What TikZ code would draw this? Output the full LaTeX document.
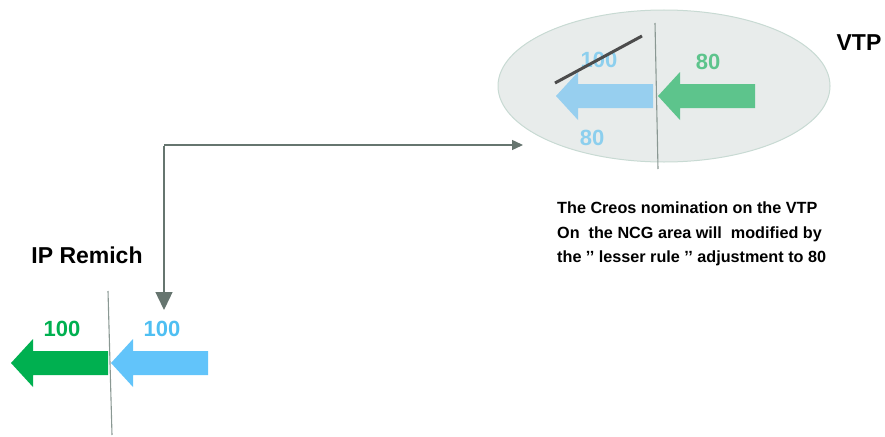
\documentclass[tikz,border=0pt]{standalone}
\usepackage{fontspec}
\setmainfont{Liberation Sans}
\usetikzlibrary{arrows.meta}
\definecolor{ellfill}{HTML}{E8ECEB}
\definecolor{elldraw}{HTML}{C8DAD3}
\definecolor{sepline}{HTML}{8A9893}
\definecolor{paleblue}{HTML}{97CFEF}
\definecolor{palegreen}{HTML}{5DC48C}
\definecolor{txtblue}{HTML}{8CCFEE}
\definecolor{ipgreen}{HTML}{00B050}
\definecolor{ipblue}{HTML}{62C4FA}
\definecolor{ipbluetxt}{HTML}{4FBFF2}
\definecolor{conn}{HTML}{66756F}
\begin{document}
\begin{tikzpicture}[x=1pt,y=-1pt,
  num/.style={font=\bfseries\fontsize{22}{24}\selectfont, inner sep=0pt},
  title/.style={font=\bfseries\fontsize{23}{25}\selectfont, inner sep=0pt, text=black},
  sep/.style={draw=sepline, line width=1.1pt},
  fatarrow/.pic={\path[pic actions] (0,0) -- (22,-24) -- (22,-12) -- (97,-12) -- (97,12) -- (22,12) -- (22,24) -- cycle;},
  conline/.style={draw=conn, line width=1.4pt}
]
\useasboundingbox (0,0) rectangle (885,436);

% VTP ellipse
\draw[fill=ellfill, draw=elldraw, line width=1pt] (664,86) ellipse [x radius=166, y radius=76];
\draw[sep] (655,23) -- (658,169);
\pic[fill=paleblue] at (556,96) {fatarrow};
\pic[fill=palegreen] at (658,96) {fatarrow};
\node[num, text=txtblue] (n100) at (599,60) {100};
\node[num, text=palegreen] (n80g) at (708,62) {80};
\node[num, text=txtblue] (n80b) at (592,138) {80};
\draw[line width=3pt, color=black!70] (555,83) -- (642,36);
\node[title] (vtp) at (859,43) {VTP};

% IP Remich
\node[title] (ip) at (87,255) {IP Remich};
\draw[sep] (108,291) -- (112,435);
\pic[fill=ipgreen] at (11,363) {fatarrow};
\pic[fill=ipblue] at (111,363) {fatarrow};
\node[num, text=ipgreen] (g100) at (62,329) {100};
\node[num, text=ipbluetxt] (b100) at (162,329) {100};

% connector
\coordinate (cC) at (164,145);
\coordinate (cA) at (164,310);
\coordinate (cB) at (523,145);
\draw[conline, -{Triangle[length=11pt,width=10pt]}] (cC) -- (cB);
\draw[conline, -{Triangle[length=18pt,width=17pt]}] ([yshift=-0.7pt]cC) -- (cA);

% explanation
\node[anchor=west, align=left, inner sep=0pt, font=\bfseries\fontsize{16.2}{24.5}\selectfont] (expl) at (557,234)
  {The Creos nomination on the VTP\\On\ \ the NCG area will\ \ modified by\\the ’’ lesser rule ’’ adjustment to 80};
\end{tikzpicture}
\end{document}
